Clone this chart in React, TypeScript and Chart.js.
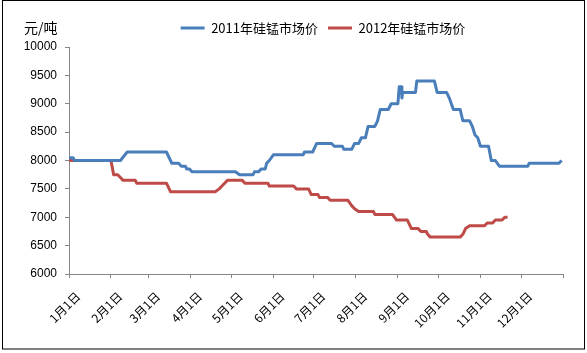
import React, { useEffect, useRef } from 'react';
import { Chart, registerables } from 'chart.js';

Chart.register(...registerables);

// x axis: day of year (0 = 1月1日)
const monthStarts = [0, 31, 59, 90, 120, 151, 181, 212, 243, 273, 304, 334, 365];
const monthLabels = ['1月1日', '2月1日', '3月1日', '4月1日', '5月1日', '6月1日', '7月1日', '8月1日', '9月1日', '10月1日', '11月1日', '12月1日', ''];

const yMin = 6000;
const yMax = 10000;
const yStep = 500;
const yUnit = '元/吨';

const name2011 = '2011年硅锰市场价';
const days2011 = [0, 3, 4, 38, 43, 72, 76, 81, 83, 86, 87, 89, 91, 123, 126, 136, 137, 140, 142, 145, 146, 148, 151, 173, 174, 180, 182, 183, 194, 196, 202, 203, 209, 211, 214, 216, 219, 221, 226, 228, 230, 236, 238, 243, 244, 245.5, 246, 246.5, 256, 257, 270, 272, 279, 281, 284, 289, 291, 296, 298, 300, 302, 304, 310, 312, 315, 318, 339, 340, 362, 364];
const price2011 = [8050, 8050, 8000, 8000, 8150, 8150, 7950, 7950, 7900, 7900, 7850, 7850, 7800, 7800, 7750, 7750, 7800, 7800, 7850, 7850, 7950, 8000, 8100, 8100, 8150, 8150, 8250, 8300, 8300, 8250, 8250, 8200, 8200, 8300, 8300, 8400, 8400, 8600, 8600, 8700, 8900, 8900, 9000, 9000, 9300, 9300, 9100, 9200, 9200, 9400, 9400, 9200, 9200, 9100, 8900, 8900, 8700, 8700, 8600, 8450, 8400, 8250, 8250, 8000, 8000, 7900, 7900, 7950, 7950, 8000];

const name2012 = '2012年硅锰市场价';
const days2012 = [0, 31, 33, 36, 38, 40, 49, 50, 72, 75, 108, 111, 113, 115, 117, 128, 130, 147, 148, 166, 168, 177, 179, 184, 185, 191, 193, 206, 209, 211, 214, 225, 226, 239, 242, 250, 253, 258, 260, 264, 265, 267, 289, 291, 293, 296, 307, 309, 313, 315, 320, 322, 324];
const price2012 = [8000, 8000, 7750, 7750, 7700, 7650, 7650, 7600, 7600, 7450, 7450, 7500, 7550, 7600, 7650, 7650, 7600, 7600, 7550, 7550, 7500, 7500, 7400, 7400, 7350, 7350, 7300, 7300, 7200, 7150, 7100, 7100, 7050, 7050, 6950, 6950, 6800, 6800, 6750, 6750, 6700, 6650, 6650, 6700, 6800, 6850, 6850, 6900, 6900, 6950, 6950, 7000, 7000];

const blue = '#4A7EBB';
const red = '#BE4B48';
const axisColor = '#868686';
const cjk = '"Noto Sans CJK SC", "Noto Sans", sans-serif';

const decor = {
  id: 'decor',
  afterLayout(chart: any) {
    const lg = chart.legend;
    if (lg) {
      lg.left += 7;
      lg.right += 7;
      lg.top -= 2.5;
      lg.bottom -= 2.5;
    }
  },
  afterDraw(chart: any) {
    const ctx = chart.ctx;
    ctx.save();
    ctx.strokeStyle = '#000';
    ctx.lineWidth = 1;
    ctx.strokeRect(2.5, 0.5, 582, 348.5);
    ctx.fillStyle = '#000';
    ctx.font = '14px ' + cjk;
    ctx.textBaseline = 'middle';
    ctx.textAlign = 'left';
    ctx.fillText(yUnit, 24, 28);
    ctx.restore();
  },
};

export default function App() {
  const ref = useRef<HTMLCanvasElement>(null);
  useEffect(() => {
    if (!ref.current) return;
    const toPts = (d: number[], v: number[]) => d.map((x, i) => ({ x, y: v[i] }));
    const chart = new Chart(ref.current, {
      type: 'line',
      data: {
        datasets: [
          {
            label: name2011,
            data: toPts(days2011, price2011),
            borderColor: blue,
            backgroundColor: blue,
            borderWidth: 3,
            pointRadius: 0,
            tension: 0,
            borderJoinStyle: 'round',
          },
          {
            label: name2012,
            data: toPts(days2012, price2012),
            borderColor: red,
            backgroundColor: red,
            borderWidth: 3,
            pointRadius: 0,
            tension: 0,
            borderJoinStyle: 'round',
          },
        ],
      },
      options: {
        responsive: false,
        animation: false,
        layout: { padding: { top: 14, right: 24, left: 0, bottom: 0 } },
        plugins: {
          legend: {
            position: 'top',
            fullSize: false,
            labels: {
              usePointStyle: true,
              pointStyle: 'line',
              pointStyleWidth: 24,
              color: '#000',
              padding: 10,
              font: { family: cjk, size: 13 },
            },
          },
          tooltip: { enabled: false },
        },
        scales: {
          x: {
            type: 'linear',
            min: 0,
            max: 365,
            afterFit: (s: any) => { s.height = 79; },
            afterBuildTicks: (s: any) => { s.ticks = monthStarts.map((v) => ({ value: v })); },
            border: { color: axisColor, width: 1 },
            grid: { display: true, drawOnChartArea: false, drawTicks: true, tickLength: 4, color: axisColor },
            ticks: {
              autoSkip: false,
              minRotation: 45,
              maxRotation: 45,
              padding: 11,
              labelOffset: 9,
              color: '#000',
              font: { family: cjk, size: 12 },
              callback: (v: any) => {
                const i = monthStarts.indexOf(Number(v));
                return i >= 0 ? monthLabels[i] : '';
              },
            },
          },
          y: {
            min: yMin,
            max: yMax,
            afterFit: (s: any) => { s.width = 69; },
            border: { color: axisColor, width: 1 },
            grid: { display: true, drawOnChartArea: false, drawTicks: true, tickLength: 4, color: axisColor },
            ticks: {
              stepSize: yStep,
              padding: 8,
              color: '#000',
              font: { family: '"Liberation Sans", Arial, sans-serif', size: 12 },
              callback: (v: any) => String(v),
            },
          },
        },
      },
      plugins: [decor],
    });
    return () => chart.destroy();
  }, []);
  return (
    <div style={{ position: 'absolute', left: 0, top: 0, width: 587, height: 353, background: '#fff' }}>
      <canvas ref={ref} width={587} height={353} style={{ display: 'block' }} />
    </div>
  );
}
